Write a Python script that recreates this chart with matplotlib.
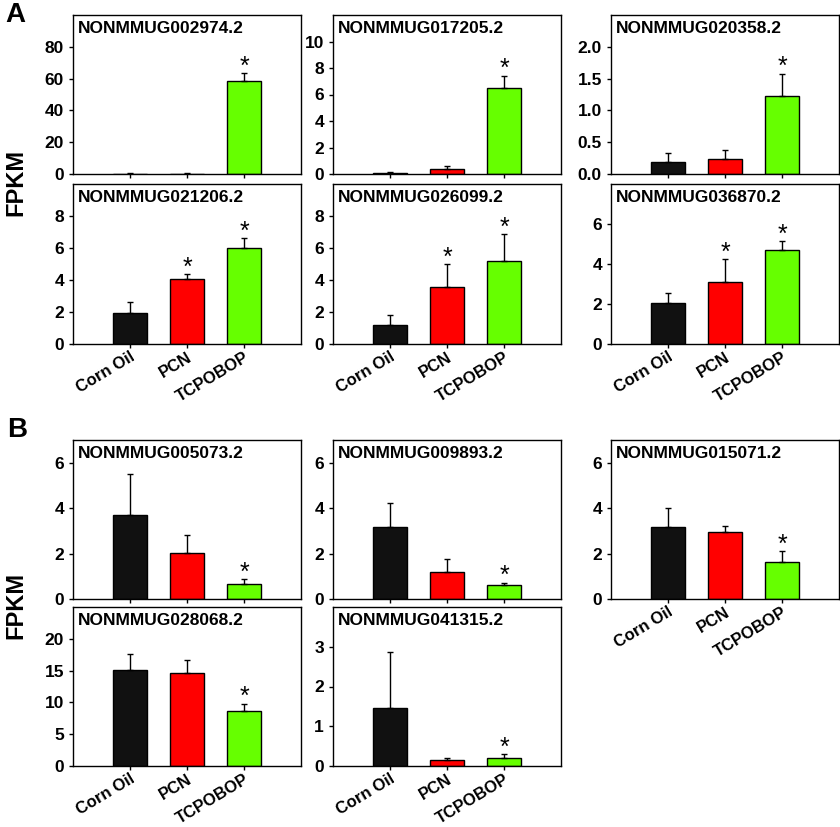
import numpy as np
import matplotlib
matplotlib.use("Agg")
import matplotlib.pyplot as plt

plt.rcParams['font.family'] = ['Liberation Sans', 'DejaVu Sans']

# ---------------- DATA ---------------- #

groups = ["Corn Oil", "PCN", "TCPOBOP"]
bar_colors = ["#111111", "#ff0000", "#66ff00"]

genes_a = ["NONMMUG002974.2", "NONMMUG017205.2", "NONMMUG020358.2",
           "NONMMUG021206.2", "NONMMUG026099.2", "NONMMUG036870.2"]
means_a = [[0.3, 0.2, 58.8], [0.1, 0.38, 6.48], [0.19, 0.24, 1.23],
           [1.91, 4.08, 5.98], [1.19, 3.57, 5.18], [2.04, 3.10, 4.72]]
errs_a = [[0.3, 0.2, 4.8], [0.05, 0.2, 0.94], [0.14, 0.14, 0.35],
          [0.72, 0.30, 0.65], [0.65, 1.42, 1.67], [0.52, 1.13, 0.42]]
sig_a = [[0, 0, 1], [0, 0, 1], [0, 0, 1], [0, 1, 1], [0, 1, 1], [0, 1, 1]]
ymax_a = [100, 12, 2.5, 10, 10, 8]
ystep_a = [20, 2, 0.5, 2, 2, 2]

genes_b = ["NONMMUG005073.2", "NONMMUG009893.2", "NONMMUG015071.2",
           "NONMMUG028068.2", "NONMMUG041315.2"]
means_b = [[3.70, 2.03, 0.65], [3.15, 1.20, 0.61], [3.15, 2.94, 1.65],
           [15.04, 14.57, 8.67], [1.46, 0.14, 0.21]]
errs_b = [[1.81, 0.80, 0.22], [1.09, 0.56, 0.11], [0.87, 0.28, 0.46],
          [2.51, 2.03, 1.15], [1.41, 0.06, 0.08]]
sig_b = [[0, 0, 1], [0, 0, 1], [0, 0, 1], [0, 0, 1], [0, 0, 1]]
ymax_b = [7, 7, 7, 25, 4]
ystep_b = [2, 2, 2, 5, 1]

# ---------------- LAYOUT (pixels) ---------------- #

W, H = 840, 827
fig = plt.figure(figsize=(W / 100, H / 100), dpi=100)


def add_panel(left, top, bottom, width=228):
    return fig.add_axes([left / W, 1 - bottom / H, width / W, (bottom - top) / H])


def draw_panel(ax, gene, mean, err, sig, ymax, ystep, labels):
    x = np.arange(len(groups))
    ax.bar(x, mean, width=0.6, color=bar_colors, edgecolor="black", linewidth=1, zorder=2)
    ax.errorbar(x, mean, yerr=[np.zeros(len(err)), err], fmt="none",
                ecolor="black", elinewidth=1, capsize=2.5, capthick=1, zorder=3)
    for xi, m, e, s in zip(x, mean, err, sig):
        if s:
            ax.annotate("*", (xi, m + e), xytext=(0, -4), textcoords="offset points",
                        ha="center", va="bottom", fontsize=18)
    ax.set_xlim(-1, 3)
    ax.set_ylim(0, ymax)
    ax.set_yticks(np.arange(0, ymax - ystep * 0.5 + 1e-9, ystep))
    ax.set_xticks(x)
    ax.tick_params(direction="out", length=3, width=1)
    ax.tick_params(axis="x", pad=1)
    for lab in ax.get_yticklabels():
        lab.set_fontweight("bold")
        lab.set_fontsize(12.5)
    if labels:
        ax.set_xticklabels(groups, rotation=31, ha="right", va="top",
                           rotation_mode="anchor", fontsize=12, fontweight="bold")
    else:
        ax.set_xticklabels([])
    for sp in ax.spines.values():
        sp.set_linewidth(1)
    ax.text(0.02, 0.965, gene, transform=ax.transAxes, ha="left", va="top",
            fontsize=12.5, fontweight="bold")


lefts = [73, 333, 611]
rows_a = [(15, 174), (184, 344)]
rows_b = [(440, 599), (607, 766)]

for i, gene in enumerate(genes_a):
    r, c = divmod(i, 3)
    ax = add_panel(lefts[c], *rows_a[r])
    draw_panel(ax, gene, means_a[i], errs_a[i], sig_a[i], ymax_a[i], ystep_a[i], r == 1)

b_slots = [(0, 0), (0, 1), (0, 2), (1, 0), (1, 1)]
for i, gene in enumerate(genes_b):
    r, c = b_slots[i]
    ax = add_panel(lefts[c], *rows_b[r])
    draw_panel(ax, gene, means_b[i], errs_b[i], sig_b[i], ymax_b[i], ystep_b[i],
               r == 1 or c == 2)

fig.text(15 / W, 1 - 15 / H, "A", fontsize=20, fontweight="bold", ha="center", va="center")
fig.text(17 / W, 1 - 430 / H, "B", fontsize=20, fontweight="bold", ha="center", va="center")
fig.text(16 / W, 1 - 182 / H, "FPKM", fontsize=17, fontweight="bold", rotation=90,
         ha="center", va="center")
fig.text(16 / W, 1 - 605 / H, "FPKM", fontsize=17, fontweight="bold", rotation=90,
         ha="center", va="center")

fig.savefig("out.png", dpi=100)
